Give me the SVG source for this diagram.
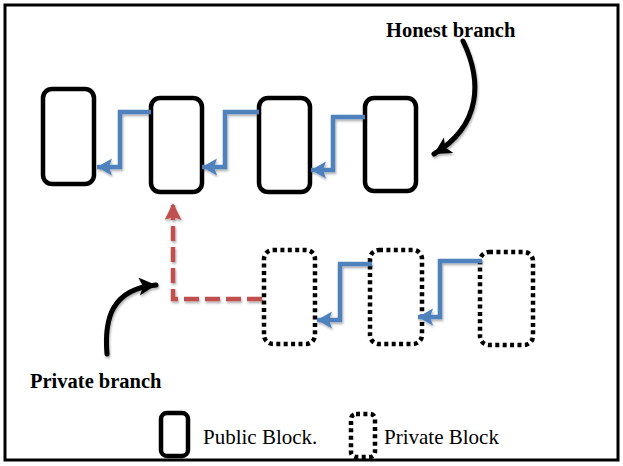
<svg xmlns="http://www.w3.org/2000/svg" width="623" height="466" viewBox="0 0 623 466">
  <style>
    .public { fill: #ffffff; stroke: #000000; stroke-width: 4.5; }
    .private { fill: none; stroke: #000000; stroke-width: 4.5; stroke-dasharray: 4 3.4; }
    .link { fill: none; stroke: #4f81bd; stroke-width: 4.5; stroke-linejoin: miter; marker-end: url(#blueHead); filter: url(#soft); }
    .fork { fill: none; stroke: #c0504d; stroke-width: 4.5; stroke-dasharray: 15 6; marker-end: url(#redHead); filter: url(#soft); }
    .pointer { fill: none; stroke: #000000; stroke-width: 5; stroke-linecap: round; marker-end: url(#blackHead); filter: url(#soft); }
    .title { font-family: "Liberation Serif", "Times New Roman", serif; font-weight: bold; font-size: 20.5px; fill: #000000; }
    .legend { font-family: "Liberation Serif", "Times New Roman", serif; font-size: 21px; fill: #000000; }
  </style>
  <defs>
    <filter id="soft" x="-20%" y="-20%" width="140%" height="140%">
      <feDropShadow dx="1" dy="2" stdDeviation="1.3" flood-color="#000000" flood-opacity="0.3"/>
    </filter>
    <marker id="blueHead" markerUnits="userSpaceOnUse" markerWidth="18" markerHeight="18" refX="15" refY="8.5" orient="auto">
      <path d="M0,0 L15,8.5 L0,17 L3,8.5 z" fill="#4f81bd"/>
    </marker>
    <marker id="redHead" markerUnits="userSpaceOnUse" markerWidth="19" markerHeight="19" refX="17" refY="8.5" orient="auto">
      <path d="M0,0 L17,8.5 L0,17 L3,8.5 z" fill="#c0504d"/>
    </marker>
    <marker id="blackHead" markerUnits="userSpaceOnUse" markerWidth="20" markerHeight="20" refX="17" refY="9" orient="auto">
      <path d="M0,0 L17,9 L0,18 L4,9 z" fill="#000000"/>
    </marker>
  </defs>

  <!-- outer frame -->
  <rect x="5" y="5" width="613" height="455" fill="#ffffff" stroke="#000000" stroke-width="3"/>

  <!-- honest chain -->
  <g id="public-block-1"><rect class="public" x="43" y="89" width="51" height="95" rx="9"/></g>
  <g id="public-block-2"><rect class="public" x="151" y="98" width="51" height="94" rx="9"/></g>
  <g id="public-block-3"><rect class="public" x="259" y="98" width="51" height="94" rx="9"/></g>
  <g id="public-block-4"><rect class="public" x="365" y="98" width="51" height="93" rx="9"/></g>

  <!-- withheld chain -->
  <g id="private-block-1"><rect class="private" x="264" y="250" width="51" height="94" rx="9"/></g>
  <g id="private-block-2"><rect class="private" x="370" y="250" width="52" height="94" rx="9"/></g>
  <g id="private-block-3"><rect class="private" x="480" y="252" width="53" height="93" rx="9"/></g>

  <!-- connectors -->
  <g id="connectors">
    <path class="link" d="M151,112 H120 V167 H97"/>
    <path class="link" d="M259,112 H225 V167 H202"/>
    <path class="link" d="M365,117 H333 V170 H311"/>
    <path class="link" d="M372,264 H340 V320 H317"/>
    <path class="link" d="M482,261 H440 V317 H418"/>
    <path class="fork" d="M262,299 H173 V203"/>
    <path class="pointer" d="M463,41 C482,80 482,125 434,154"/>
    <path class="pointer" d="M107,354 C104,318 112,289 156,285"/>
  </g>

  <!-- labels -->
  <g id="label-honest"><text class="title" x="386" y="37">Honest branch</text></g>
  <g id="label-private"><text class="title" x="30" y="388">Private branch</text></g>

  <!-- legend -->
  <g id="legend-public">
    <rect class="public" x="161" y="413" width="27" height="43" rx="6"/>
    <text class="legend" x="203" y="444">Public Block.</text>
  </g>
  <g id="legend-private">
    <rect class="private" x="351" y="414" width="24" height="43" rx="5"/>
    <text class="legend" x="384" y="444">Private Block</text>
  </g>
</svg>
